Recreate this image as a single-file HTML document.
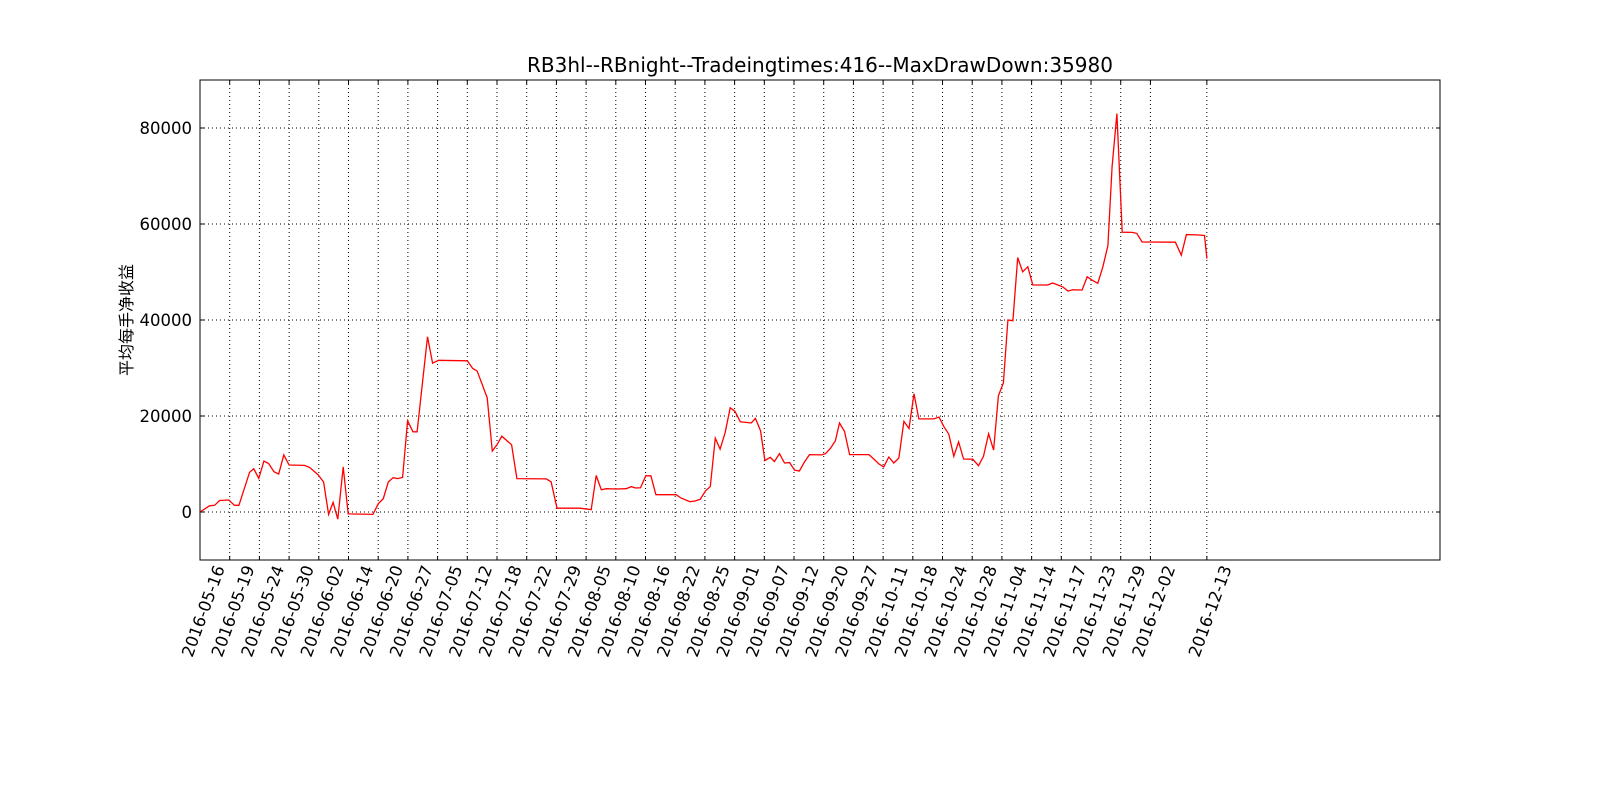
<!DOCTYPE html>
<html><head><meta charset="utf-8">
<style>
html,body{margin:0;padding:0;background:#fff;}
svg{display:block;font-family:"DejaVu Sans","Liberation Sans","Noto Sans CJK SC",sans-serif;}
</style></head>
<body>
<svg id="chart" width="1600" height="800" viewBox="0 0 1600 800" xmlns="http://www.w3.org/2000/svg">
<rect width="1600" height="800" fill="#fff"/>
<g id="grid"></g>
<g id="ticks"></g>
<g id="series"></g>
<rect x="200" y="80" width="1240" height="480" fill="none" stroke="#000" stroke-width="1"/>
<text x="820" y="72" text-anchor="middle" font-size="20">RB3hl--RBnight--Tradeingtimes:416--MaxDrawDown:35980</text>
<text transform="translate(132,320) rotate(-90)" text-anchor="middle" font-size="16" font-family="'Noto Sans CJK SC',sans-serif">平均每手净收益</text>
</svg>
<script>
const xTickLabels = ["2016-05-16","2016-05-19","2016-05-24","2016-05-30","2016-06-02","2016-06-14","2016-06-20","2016-06-27","2016-07-05","2016-07-12","2016-07-18","2016-07-22","2016-07-29","2016-08-05","2016-08-10","2016-08-16","2016-08-22","2016-08-25","2016-09-01","2016-09-07","2016-09-12","2016-09-20","2016-09-27","2016-10-11","2016-10-18","2016-10-24","2016-10-28","2016-11-04","2016-11-14","2016-11-17","2016-11-23","2016-11-29","2016-12-02","2016-12-13"];
const xTickPos = [0,1,2,3,4,5,6,7,8,9,10,11,12,13,14,15,16,17,18,19,20,21,22,23,24,25,26,27,28,29,30,31,32,33.9];
const yTicks = [0,20000,40000,60000,80000];
const xIdx = [0,0.32,0.49,0.66,0.97,1.16,1.31,1.67,1.81,1.98,2.15,2.31,2.49,2.65,2.82,3.0,3.52,3.69,3.97,4.16,4.33,4.48,4.64,4.82,4.99,5.82,6.01,6.17,6.34,6.5,6.66,6.82,6.99,7.17,7.31,7.66,7.83,8.03,9.0,9.18,9.33,9.67,9.84,10.0,10.16,10.49,10.67,11.66,11.82,12.02,12.8,13.17,13.34,13.51,13.68,14.01,14.35,14.52,14.66,14.83,15.01,15.18,15.35,16.03,16.2,16.5,16.67,16.84,17.02,17.18,17.35,17.51,17.68,17.85,18.01,18.19,18.56,18.7,18.87,19.02,19.2,19.34,19.51,19.68,19.85,20.02,20.18,20.35,20.52,20.92,21.06,21.23,21.39,21.53,21.7,21.87,22.52,22.65,22.86,23.02,23.19,23.36,23.53,23.7,23.87,24.04,24.2,24.71,24.88,25.04,25.21,25.38,25.54,25.71,26.02,26.21,26.38,26.55,26.72,26.88,27.05,27.2,27.37,27.53,27.7,27.87,28.04,28.54,28.71,29.05,29.22,29.39,29.7,29.87,30.04,30.23,30.4,30.57,30.71,30.87,31.05,31.39,31.54,31.72,32.84,33.04,33.21,33.65,33.82,33.9];
const yVal = [0,1300,1400,2400,2500,1400,1400,8300,9000,7000,10600,10100,8400,7900,11900,9800,9700,9300,7800,6250,-500,2000,-1500,9400,-400,-500,1800,2800,6250,7150,6950,7200,19000,16700,16700,36500,31000,31600,31500,29900,29400,23800,12700,14000,15800,14000,6950,6900,6300,800,800,500,7600,4650,4850,4800,4850,5300,5000,5050,7550,7550,3600,3600,2900,2150,2300,2650,4400,5300,15400,13100,16500,21700,21000,18800,18550,19500,16950,10700,11400,10500,12150,10200,10300,8700,8550,10400,11950,11900,12150,13300,14800,18550,16800,11950,11950,11250,10000,9400,11450,10200,11250,18900,17400,24650,19400,19400,19800,17850,16200,11600,14600,11050,11000,9650,11600,16300,12900,24200,26900,40000,39850,53000,50050,51100,47300,47300,47700,46900,46050,46300,46250,49000,48300,47650,51100,55500,72000,83000,58300,58250,58050,56250,56200,53500,57800,57700,57600,52800];

const L=200,R=1440,T=80,B=560,XMAX=41.75,YMIN=-10000,YMAX=90000;
const xs=i=>L+i*(R-L)/XMAX;
const ys=v=>B-(v-YMIN)*(B-T)/(YMAX-YMIN);
const NS="http://www.w3.org/2000/svg";
function mk(tag,attrs,parent){const e=document.createElementNS(NS,tag);for(const k in attrs)e.setAttribute(k,attrs[k]);parent.appendChild(e);return e;}
const grid=document.getElementById('grid'),ticks=document.getElementById('ticks'),series=document.getElementById('series');

xTickPos.forEach((p,i)=>{
  const x=xs(p);
  const g=mk('line',{x1:x,x2:x,y1:T,y2:B,stroke:'#000','stroke-width':1,'stroke-dasharray':'1,3'},grid);
  
  
  const t1=mk('line',{x1:x,x2:x,y1:B,y2:B-4,stroke:'#000'},ticks);
  
  
  const t2=mk('line',{x1:x,x2:x,y1:T,y2:T+4,stroke:'#000'},ticks);
  
  
  const lb=mk('text',{transform:`translate(${x+25},${B+8}) rotate(-70)`,'text-anchor':'end','font-size':16.5},ticks);
  lb.textContent=xTickLabels[i];
  
  
});
yTicks.forEach(v=>{
  const y=ys(v);
  const g=mk('line',{x1:L,x2:R,y1:y,y2:y,stroke:'#000','stroke-width':1,'stroke-dasharray':'1,3'},grid);
  
  
  const t1=mk('line',{x1:L,x2:L+4,y1:y,y2:y,stroke:'#000'},ticks);
  
  
  const t2=mk('line',{x1:R,x2:R-4,y1:y,y2:y,stroke:'#000'},ticks);
  
  
  const lb=mk('text',{x:L-8,y:y+6,'text-anchor':'end','font-size':16.5},ticks);
  lb.textContent=String(v);
  
  
});
const pts=xIdx.map((p,i)=>xs(p).toFixed(1)+','+ys(yVal[i]).toFixed(1)).join(' ');
const line=mk('polyline',{points:pts,fill:'none',stroke:'#ff0000','stroke-width':1.3,'stroke-linejoin':'miter'},series);


</script>
</body></html>
